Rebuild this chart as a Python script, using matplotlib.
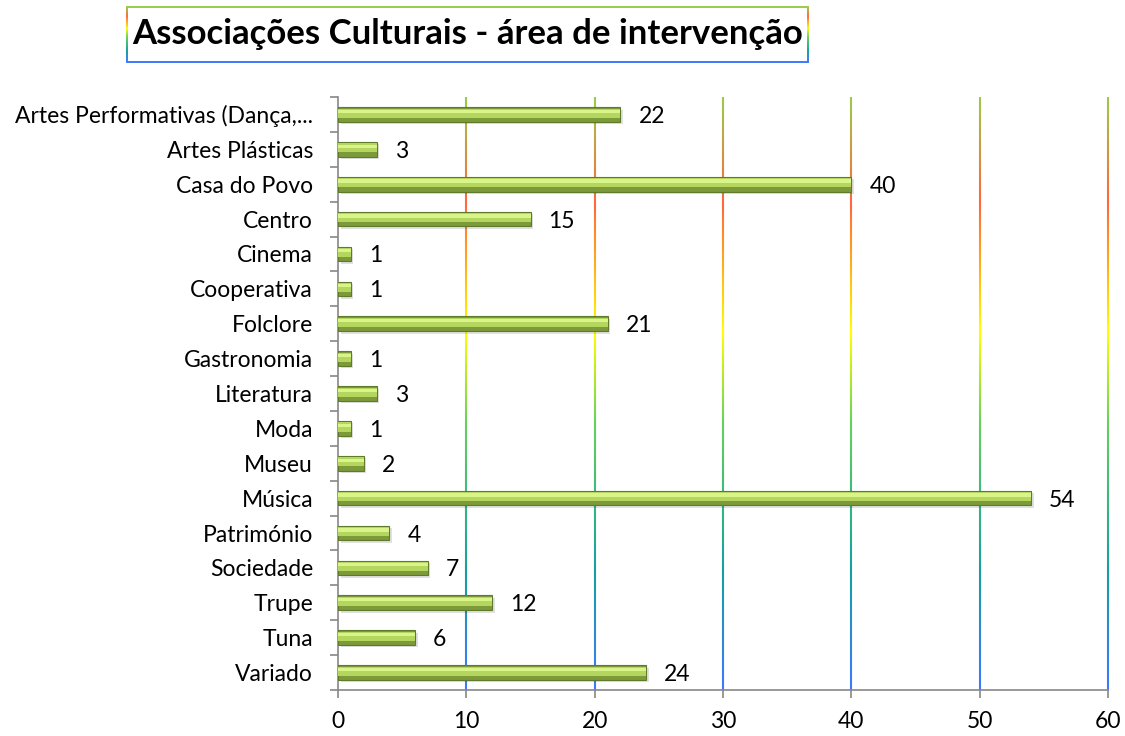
import numpy as np
import matplotlib.pyplot as plt
from matplotlib.collections import LineCollection
from matplotlib.colors import LinearSegmentedColormap

categories = ['Artes Performativas (Dança,...', 'Artes Plásticas', 'Casa do Povo', 'Centro',
              'Cinema', 'Cooperativa', 'Folclore', 'Gastronomia', 'Literatura', 'Moda',
              'Museu', 'Música', 'Património', 'Sociedade', 'Trupe', 'Tuna', 'Variado']
values = [22, 3, 40, 15, 1, 1, 21, 1, 3, 1, 2, 54, 4, 7, 12, 6, 24]
xticks = [0, 10, 20, 30, 40, 50, 60]

plt.rcParams['font.family'] = ['Lato', 'DejaVu Sans']

# rainbow gradient used by gridlines and title frame (bottom -> top)
rainbow = LinearSegmentedColormap.from_list('rb', [
    (0.00, (0.24, 0.47, 1.00)),
    (0.20, (0.08, 0.63, 0.62)),
    (0.45, (0.40, 0.82, 0.35)),
    (0.60, (1.00, 1.00, 0.00)),
    (0.72, (1.00, 0.67, 0.12)),
    (0.82, (1.00, 0.40, 0.24)),
    (1.00, (0.60, 0.80, 0.28)),
])

fig = plt.figure(figsize=(11.25, 7.36), dpi=100)
ax = fig.add_axes([338 / 1125, 46 / 736, 770 / 1125, 593 / 736])

n = len(categories)
ypos = np.arange(n)[::-1]
ax.set_ylim(-0.5, n - 0.5)
ax.set_xlim(0, 60)

# gradient gridlines
ys = np.linspace(-0.5, n - 0.5, 200)
frac = (ys[:-1] + 0.5) / n
for xv in xticks[1:]:
    segs = [[(xv, ys[i]), (xv, ys[i + 1])] for i in range(len(ys) - 1)]
    lc = LineCollection(segs, colors=rainbow(frac), linewidths=1.5, zorder=1)
    lc.set_clip_on(False)
    ax.add_collection(lc)

h = 0.42
# shadow
ax.barh(ypos - 0.07, values, height=h, left=0.2, color='#000000', alpha=0.12, zorder=2)
# bar body (dark bottom), lighter top, highlight
ax.barh(ypos, values, height=h, color='#7d9a3a', edgecolor='#5f7a2a', linewidth=0.8, zorder=3)
ax.barh(ypos + 0.04, values, height=h * 0.62, color='#b5d65e', linewidth=0, zorder=4)
ax.barh(ypos + 0.09, values, height=h * 0.22, color='#d9f58a', linewidth=0, zorder=5)

for y, v in zip(ypos, values):
    ax.annotate(str(v), (v, y), xytext=(13, 0), textcoords='offset points',
                va='center_baseline', ha='left', fontsize=16.5, color='black')

ax.set_yticks(ypos)
ax.set_yticklabels(categories, fontsize=16.5)
ax.set_yticks(np.arange(-0.5, n, 1.0), minor=True)
ax.tick_params(axis='y', which='major', length=0, pad=18)
ax.tick_params(axis='y', which='minor', length=6, color='#888888', width=1.2)
ax.set_xticks(xticks)
ax.tick_params(axis='x', labelsize=16.5, length=6, color='#888888', width=1.2, pad=9)

for s in ['top', 'right']:
    ax.spines[s].set_visible(False)
for s in ['left', 'bottom']:
    ax.spines[s].set_color('#888888')
    ax.spines[s].set_linewidth(1.2)

# title with gradient frame
W, H = 1125, 736
x0, x1, y0, y1 = 127 / W, 808 / W, 1 - 62 / H, 1 - 7 / H
fig.text((x0 + x1) / 2, (y0 + y1) / 2, 'Associações Culturais - área de intervenção',
         ha='center', va='center', fontsize=25, fontweight='bold', color='black')
t = np.linspace(0, 1, 60)
for xe in (x0, x1):
    yy = y0 + (y1 - y0) * t
    segs = [[(xe, yy[i]), (xe, yy[i + 1])] for i in range(len(t) - 1)]
    fig.add_artist(LineCollection(segs, colors=rainbow(t[:-1]), linewidths=1.4,
                                  transform=fig.transFigure))
fig.add_artist(plt.Line2D([x0, x1], [y1, y1], color=rainbow(1.0), lw=1.4, transform=fig.transFigure))
fig.add_artist(plt.Line2D([x0, x1], [y0, y0], color=rainbow(0.0), lw=1.4, transform=fig.transFigure))

fig.savefig('out.png', dpi=100)
